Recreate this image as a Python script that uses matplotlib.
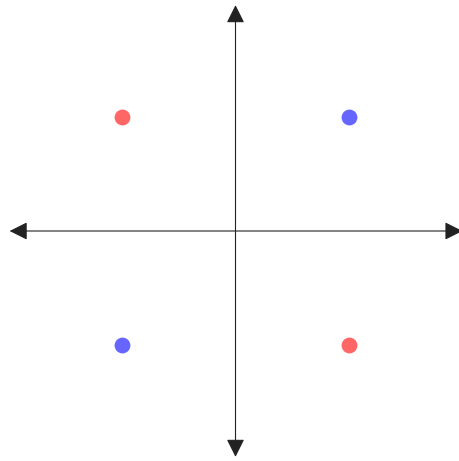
import matplotlib
matplotlib.use("Agg")
import matplotlib.pyplot as plt
from matplotlib.patches import FancyArrowPatch

red_x = [-1, 1]
red_y = [1, -1]
blue_x = [1, -1]
blue_y = [1, -1]

fig = plt.figure(figsize=(4.59, 4.61), dpi=100)
ax = fig.add_axes([0, 0, 1, 1])
u = 113.5
cx, cy = 235.5, 231
ax.set_xlim(-cx / u, (459 - cx) / u)
ax.set_ylim(-(461 - cy) / u, cy / u)
ax.axis('off')

style = "<|-|>,head_length=11,head_width=5.5"
for (p1, p2) in [((-1.99, 0), (2.0, 0)), ((0, -1.99), (0, 1.99))]:
    a = FancyArrowPatch(p1, p2, arrowstyle=style, color='#222222', lw=0.8,
                        shrinkA=0, shrinkB=0, mutation_scale=1, zorder=1)
    ax.add_patch(a)

ax.scatter(red_x, red_y, s=130, color='#FF6666', zorder=3, linewidths=0)
ax.scatter(blue_x, blue_y, s=130, color='#6666FF', zorder=3, linewidths=0)

fig.savefig("out.png", dpi=100)
